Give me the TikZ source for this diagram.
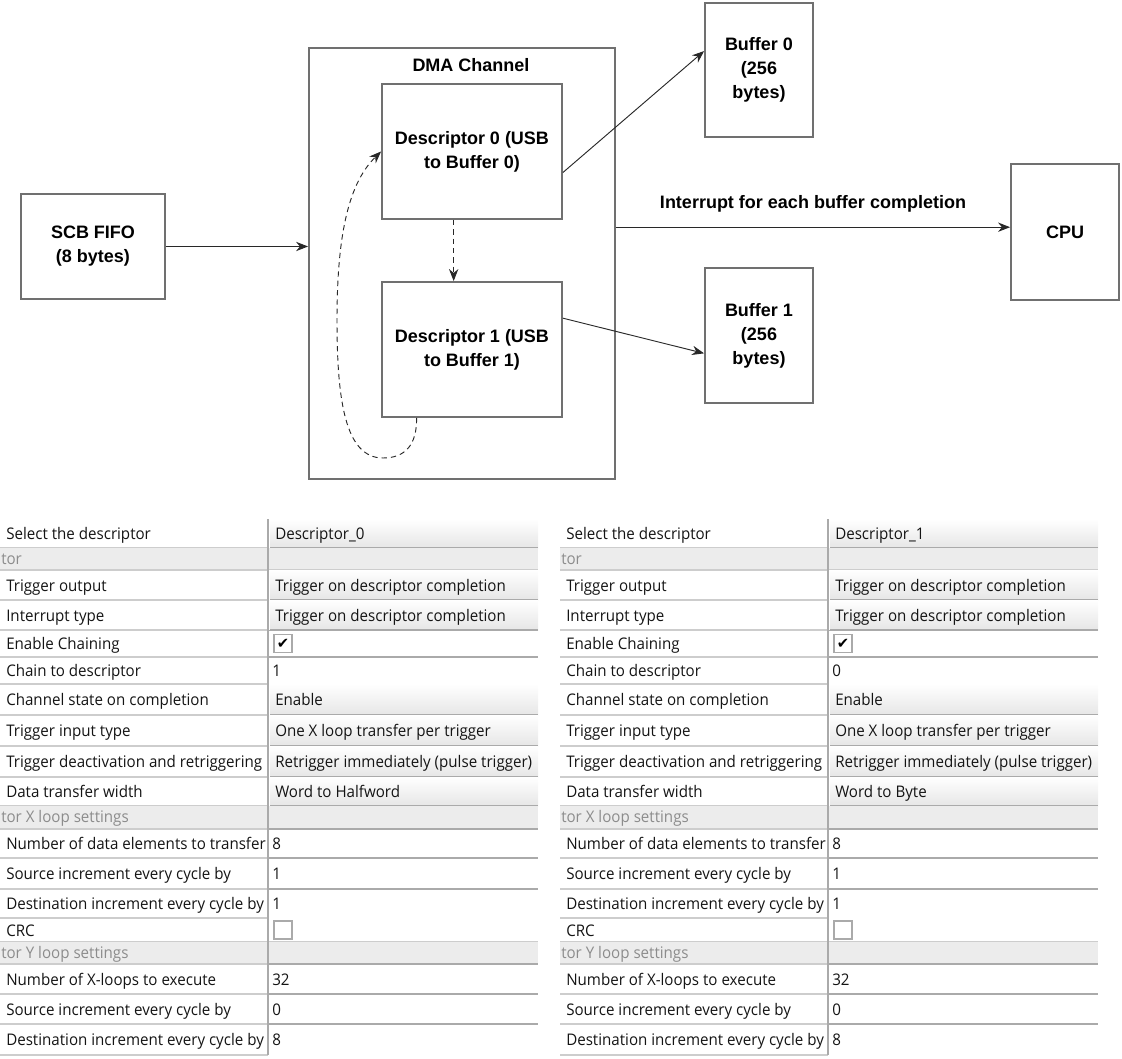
\documentclass[tikz,border=0pt]{standalone}
\usepackage{fontspec}
\setmainfont{Liberation Sans}
\newfontfamily\gridfont[FakeStretch=0.945]{Open Sans}
\newfontfamily\tickfont{DejaVu Sans}
\usetikzlibrary{arrows.meta,calc}

\definecolor{boxgray}{RGB}{112,112,112}
\definecolor{wiregray}{RGB}{40,40,40}
\definecolor{rowgray}{RGB}{205,205,205}
\definecolor{cellgray}{RGB}{230,230,230}
\definecolor{edgegray}{RGB}{170,170,170}
\definecolor{headgray}{RGB}{236,236,236}
\definecolor{headtext}{RGB}{140,140,140}

\def\diagsize{\fontsize{13.5}{18}\selectfont\bfseries}
\def\gridsize{\gridfont\fontsize{12}{14}\selectfont}

% one row with a drop-down value
\newcommand\gridcombo[5]{%
  \shade[top color=white,bottom color=cellgray] (268,#2) rectangle (538,#3);
  \draw[edgegray,line width=1.2pt] (268,#3) -- (538,#3);
  \draw[white,line width=1pt] (269,#2) -- (269,#3);
  \draw[rowgray,line width=1.2pt] (0,#3) -- (268,#3);
  \node[gridtext] (#1key) at (6,{(#2+#3)/2+2}) {#4};
  \node[gridtext] (#1val) at (275,{(#2+#3)/2+2}) {#5};
}
% one row with a text field
\newcommand\gridfield[5]{%
  \draw[edgegray,line width=1.5pt] (268,#2) -- (538,#2);
  \draw[rowgray,line width=1.2pt] (0,#3) -- (268,#3);
  \node[gridtext] (#1key) at (6,{(#2+#3)/2+2}) {#4};
  \node[gridtext] (#1val) at (272,{(#2+#3)/2+2}) {#5};
}
% one row with a check box
\newcommand\gridcheck[5]{%
  \draw[rowgray,line width=1.2pt] (0,#3) -- (538,#3);
  \node[gridtext] (#1key) at (6,{(#2+#3)/2+2}) {#4};
  \node[tickbox] (#1val) at (283,{(#2+#3)/2}) {#5};
}
% one grey section row
\newcommand\gridhead[4]{%
  \fill[headgray] (0,#2) rectangle (538,#3);
  \draw[rowgray,line width=1.2pt] (0,#3) -- (538,#3);
  \node[headtext] (#1) at (1,{(#2+#3)/2+1}) {#4};
}
% the whole property grid of one descriptor
\newcommand\desctable[4]{%
  \gridcombo{#1a}{519}{548}{Select the descriptor}{#2}
  \gridhead{#1h1}{548}{570}{tor}
  \gridcombo{#1b}{570}{600}{Trigger output}{Trigger on descriptor completion}
  \gridcombo{#1c}{600}{630}{Interrupt type}{Trigger on descriptor completion}
  \gridcheck{#1d}{630}{657}{Enable Chaining}{\tickfont\fontsize{11}{11}\selectfont\char"2714}
  \gridfield{#1e}{657}{684}{Chain to descriptor}{#3}
  \gridcombo{#1f}{684}{715}{Channel state on completion}{Enable}
  \gridcombo{#1g}{715}{746}{Trigger input type}{One X loop transfer per trigger}
  \gridcombo{#1i}{746}{777}{Trigger deactivation and retriggering}{Retrigger immediately (pulse trigger)}
  \gridcombo{#1j}{777}{806}{Data transfer width}{#4}
  \gridhead{#1h2}{806}{829}{tor X loop settings}
  \gridfield{#1k}{829}{858}{Number of data elements to transfer}{8}
  \gridfield{#1l}{858}{889}{Source increment every cycle by}{1}
  \gridfield{#1m}{889}{918}{Destination increment every cycle by}{1}
  \gridcheck{#1n}{918}{942}{CRC}{}
  \gridhead{#1h3}{942}{964}{tor Y loop settings}
  \gridfield{#1o}{964}{994}{Number of X-loops to execute}{32}
  \gridfield{#1p}{994}{1024}{Source increment every cycle by}{0}
  \gridfield{#1q}{1024}{1055}{Destination increment every cycle by}{8}
  \draw[edgegray,line width=1.2pt] (268,519) -- (268,1055);
}

\begin{document}
\begin{tikzpicture}[x=0.75pt,y=-0.75pt,
  box/.style={draw=boxgray,line width=1.4pt,align=center,inner sep=0pt,font=\diagsize},
  wire/.style={draw=wiregray,line width=0.7pt,-{Stealth[length=9pt,width=7pt]}},
  loopwire/.style={wire,dashed,dash pattern=on 4pt off 3pt},
  gridtext/.style={anchor=west,inner sep=0pt,text height=8.8pt,text depth=2.8pt,font=\gridsize,text=black!92},
  headtext/.style={gridtext,text=headtext},
  tickbox/.style={draw=edgegray,line width=0.8pt,fill=white,minimum size=13.5pt,inner sep=0pt}]

\useasboundingbox (0,0) rectangle (1122,1059);

\node[box,minimum width=108pt,minimum height=78.75pt] (fifo) at (93,246.5) {SCB FIFO\\(8 bytes)};
\node[box,minimum width=229.5pt,minimum height=323.25pt] (dma) at (462,263.5) {};
\node[inner sep=0pt,font=\diagsize] (dmatitle) at (471,65) {DMA Channel};
\node[box,minimum width=135pt,minimum height=101.25pt] (desc0) at (472,151.5) {Descriptor 0 (USB\\to Buffer 0)};
\node[box,minimum width=135pt,minimum height=101.25pt] (desc1) at (472,349.5) {Descriptor 1 (USB\\to Buffer 1)};
\node[box,minimum width=81pt,minimum height=100.5pt] (buf0) at (759,70) {Buffer 0\\(256\\bytes)};
\node[box,minimum width=81pt,minimum height=101.25pt] (buf1) at (759,335.5) {Buffer 1\\(256\\bytes)};
\node[box,minimum width=81pt,minimum height=102pt] (cpu) at (1065,232) {CPU};

\draw[wire] (fifo.east) -- (fifo.east -| dma.west);
\draw[wire] (desc0.-13.4) -- (buf0.161.6);
\draw[wire] (desc1.19.3) -- (buf1.198);
\draw[wire] (cpu.175.8 -| dma.east) -- node[midway,above=10.5pt,inner sep=0pt,font=\diagsize] (irq) {Interrupt for each buffer completion} (cpu.175.8);
\draw[loopwire] (desc0.-105.7) -- (desc1.105.7);
\draw[loopwire] (desc1.-129.2) .. controls (417,445) and (405,458) .. (383,458)
  .. controls (345,458) and (337,400) .. (337,320)
  .. controls (337,230) and (350,182) .. (desc0.west);

\desctable{l}{Descriptor\_0}{1}{Word to Halfword}
\begin{scope}[xshift=420pt]
\desctable{r}{Descriptor\_1}{0}{Word to Byte}
\end{scope}

\end{tikzpicture}
\end{document}
